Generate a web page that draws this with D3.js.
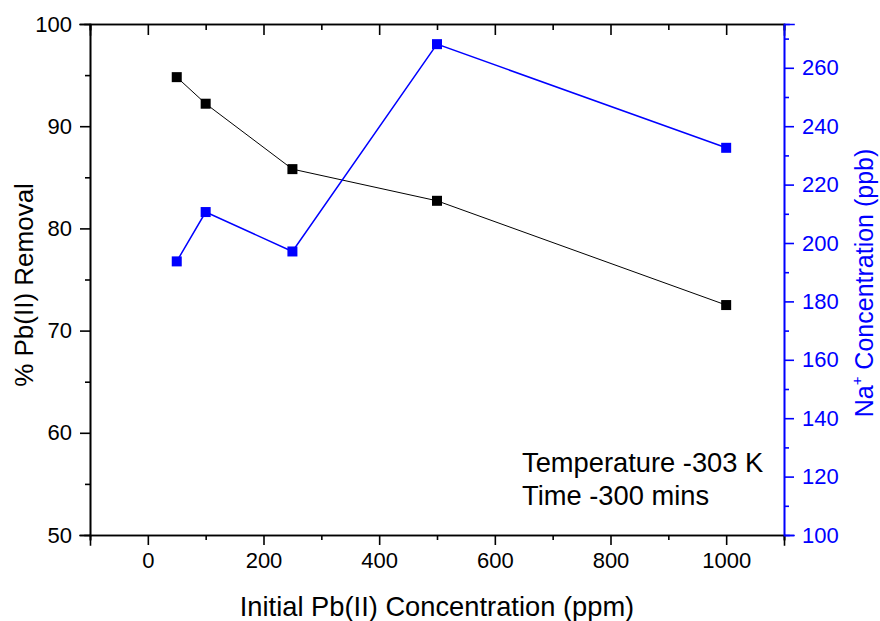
<!DOCTYPE html>
<html>
<head>
<meta charset="utf-8">
<script src="https://cdn.jsdelivr.net/npm/d3@7"></script>
<style>
  body { margin: 0; background: #fff; }
  svg { display: block; font-family: "Liberation Sans", Arial, sans-serif; }
</style>
</head>
<body>
<svg id="chart" width="880" height="621"></svg>
<script>
// ---- Data ----
const concentrations = [50, 100, 250, 500, 1000];          // Initial Pb(II) concentration (ppm)
const removalPct     = [94.8, 92.2, 85.8, 82.7, 72.5];     // % Pb(II) removal (left axis)
const naConc         = [193.7, 210.6, 197.1, 268.1, 232.6]; // Na+ concentration (ppb) (right axis)
const xTicks      = [0, 200, 400, 600, 800, 1000];
const xMinorTicks = [-100, 100, 300, 500, 700, 900, 1100];
const yLeftTicks  = [50, 60, 70, 80, 90, 100];
const yLeftMinor  = [55, 65, 75, 85, 95];
const yRightTicks = [100, 120, 140, 160, 180, 200, 220, 240, 260];
const yRightMinor = [110, 130, 150, 170, 190, 210, 230, 250, 270];
const notes = ["Temperature -303 K", "Time -300 mins"];

// ---- Layout ----
const svg = d3.select("#chart");
const L = 90, R = 784, T = 24, B = 535;
const blue = "#0000ff";

const x  = d3.scaleLinear().domain([-100, 1100]).range([L, R]);
const yL = d3.scaleLinear().domain([50, 100]).range([B, T]);
const yR = d3.scaleLinear().domain([100, 275]).range([B, T]);

const tickFont = 22;
const ff = '"Liberation Sans", Arial, sans-serif';

// Bottom axis
const gB = svg.append("g").attr("transform", `translate(0,${B})`);
gB.call(d3.axisBottom(x).tickValues(xTicks).tickSize(10).tickPadding(7).tickFormat(d3.format("d")));
gB.append("g").call(d3.axisBottom(x).tickValues(xMinorTicks).tickSize(5).tickFormat(""));
// Top axis (ticks inward)
const gT = svg.append("g").attr("transform", `translate(0,${T})`);
gT.call(d3.axisBottom(x).tickValues(xTicks).tickSize(11).tickFormat(""));
gT.append("g").call(d3.axisBottom(x).tickValues(xMinorTicks).tickSize(6).tickFormat(""));
// Left axis
const gL = svg.append("g").attr("transform", `translate(${L},0)`);
gL.call(d3.axisLeft(yL).tickValues(yLeftTicks).tickSize(10).tickPadding(8).tickFormat(d3.format("d")));
gL.append("g").call(d3.axisLeft(yL).tickValues(yLeftMinor).tickSize(5).tickFormat(""));
// Right axis (blue)
const gR = svg.append("g").attr("transform", `translate(${R},0)`);
gR.call(d3.axisRight(yR).tickValues(yRightTicks).tickSize(10).tickPadding(8).tickFormat(d3.format("d")));
gR.append("g").call(d3.axisRight(yR).tickValues(yRightMinor).tickSize(5).tickFormat(""));

[gB, gT, gL].forEach(g => {
  g.selectAll("path.domain, line").attr("stroke", "#000").attr("stroke-width", 1.6);
  g.selectAll("text").attr("fill", "#000").style("font-size", tickFont + "px").style("font-family", ff);
});
gR.selectAll("path.domain, line").attr("stroke", blue).attr("stroke-width", 1.6);
gR.selectAll("text").attr("fill", blue).style("font-size", tickFont + "px").style("font-family", ff);
svg.selectAll("path.domain").attr("stroke-linecap", "square");

// ---- Series ----
const ptsL = concentrations.map((c, i) => [c, removalPct[i]]);
const ptsR = concentrations.map((c, i) => [c, naConc[i]]);

svg.append("path").datum(ptsL)
  .attr("fill", "none").attr("stroke", "#000").attr("stroke-width", 1)
  .attr("d", d3.line().x(d => x(d[0])).y(d => yL(d[1])));
svg.append("path").datum(ptsR)
  .attr("fill", "none").attr("stroke", blue).attr("stroke-width", 1.5)
  .attr("d", d3.line().x(d => x(d[0])).y(d => yR(d[1])));

const ms = 10;
svg.append("g").selectAll("rect").data(ptsL).join("rect")
  .attr("x", d => x(d[0]) - ms / 2).attr("y", d => yL(d[1]) - ms / 2)
  .attr("width", ms).attr("height", ms).attr("fill", "#000");
svg.append("g").selectAll("rect").data(ptsR).join("rect")
  .attr("x", d => x(d[0]) - ms / 2).attr("y", d => yR(d[1]) - ms / 2)
  .attr("width", ms).attr("height", ms).attr("fill", blue);

// ---- Titles ----
svg.append("text")
  .attr("x", (L + R) / 2).attr("y", 616)
  .attr("text-anchor", "middle").style("font-size", "27.3px")
  .text("Initial Pb(II) Concentration (ppm)");

svg.append("text")
  .attr("transform", `translate(33,285) rotate(-90)`)
  .attr("text-anchor", "middle").style("font-size", "26px")
  .text("% Pb(II) Removal");

const rt = svg.append("text")
  .attr("transform", `translate(873,283) rotate(-90)`)
  .attr("text-anchor", "middle").style("font-size", "25px")
  .attr("fill", blue);
rt.append("tspan").text("Na");
rt.append("tspan").attr("dy", -11).style("font-size", "15px").text("+");
rt.append("tspan").attr("dy", 11).text(" Concentration (ppb)");

// ---- Annotation ----
svg.append("g").selectAll("text").data(notes).join("text")
  .attr("x", 522).attr("y", (d, i) => 472 + i * 33)
  .style("font-size", "27.3px")
  .text(d => d);
</script>
</body>
</html>
